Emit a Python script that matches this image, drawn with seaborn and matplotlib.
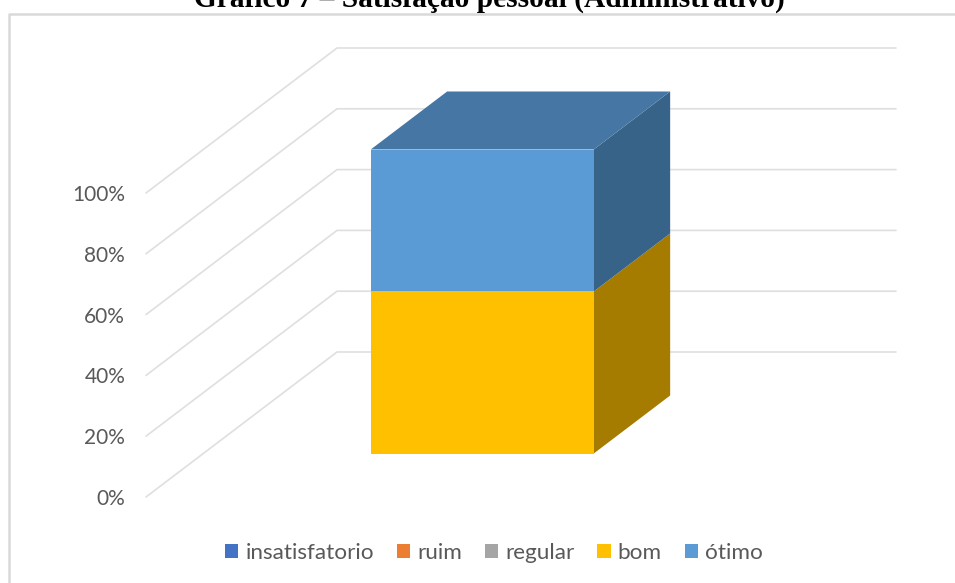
import matplotlib
matplotlib.use('Agg')
from matplotlib import pyplot
from matplotlib.lines import Line2D
from matplotlib.transforms import Affine2D
import seaborn as sns

titleText = 'Gráfico 7 – Satisfação pessoal (Administrativo)'
seriesNames = ['insatisfatorio', 'ruim', 'regular', 'bom', 'ótimo']
seriesValues = [0, 0, 0, 53.3, 46.7]
yTicks = [0, 20, 40, 60, 80, 100]
yTickLabels = ['0%', '20%', '40%', '60%', '80%', '100%']

frontColors = ['#4472C4', '#ED7D31', '#A5A5A5', '#FFC000', '#5B9BD5']
sideColors = ['#2F5597', '#A65E22', '#747474', '#A67C00', '#376389']
topColors = ['#3A62A8', '#C96A2A', '#8C8C8C', '#D9A300', '#4676A4']
gridColor = '#DFDFDF'
textColor = '#595959'

WIDTH, HEIGHT = 955, 583
# front plane of the fake 3D box, in pixels
LEFT, BOTTOM, PLANE_W, PLANE_H = 146, 497, 559, 304
# what one full unit of depth moves a point by, in data units
DEPTH_X = 191 / PLANE_W
DEPTH_Y = 145 / PLANE_H * 100
BAR_WIDTH = 0.399
BAR_CENTER = -0.001
BAR_NEAR, BAR_FAR = 0.3, 0.7


def Project(x, y, depth):
	return x + depth * DEPTH_X, y + depth * DEPTH_Y


def FillFace(ax, points, color, zorder):
	xs, ys = zip(*[Project(*p) for p in points])
	ax.fill(xs, ys, color=color, linewidth=0, clip_on=False, zorder=zorder)


sns.set_theme(style='white')
pyplot.rcParams['font.family'] = ['Lato', 'DejaVu Sans']

fig = pyplot.figure(figsize=(WIDTH / 100, HEIGHT / 100), dpi=100)
ax = fig.add_axes([LEFT / WIDTH, (HEIGHT - BOTTOM) / HEIGHT, PLANE_W / WIDTH, PLANE_H / HEIGHT])

# walls
for v in yTicks:
	xs, ys = zip(Project(-0.5, v, 0), Project(-0.5, v, 1), Project(0.5, v, 1))
	ax.plot(xs, ys, color=gridColor, linewidth=1.2, clip_on=False, zorder=1)

# stacked bars, the front faces come from seaborn
barShift = Affine2D().translate(*Project(BAR_CENTER, 0, BAR_NEAR)) + ax.transData
bottom = 0
x0, x1 = BAR_CENTER - BAR_WIDTH / 2, BAR_CENTER + BAR_WIDTH / 2
for name, value, front, side in zip(seriesNames, seriesValues, frontColors, sideColors):
	before = len(ax.patches)
	sns.barplot(x=[''], y=[value], bottom=bottom, width=BAR_WIDTH, color=front,
				saturation=1, linewidth=0, label=name, legend=False, ax=ax, zorder=4)
	for patch in ax.patches[before:]:
		patch.set_transform(barShift)
		patch.set_clip_on(False)
	if value > 0:
		FillFace(ax, [(x1, bottom, BAR_NEAR), (x1, bottom + value, BAR_NEAR),
					  (x1, bottom + value, BAR_FAR), (x1, bottom, BAR_FAR)], side, 3)
	bottom += value

topColor = [c for c, v in zip(topColors, seriesValues) if v > 0][-1]
FillFace(ax, [(x0, bottom, BAR_NEAR), (x1, bottom, BAR_NEAR),
			  (x1, bottom, BAR_FAR), (x0, bottom, BAR_FAR)], topColor, 3)

ax.set_xlim(-0.5, 0.5)
ax.set_ylim(0, 100)
ax.set_xticks([])
ax.set_xlabel('')
ax.set_ylabel('')
ax.set_yticks(yTicks)
ax.set_yticklabels(yTickLabels, fontsize=15, color=textColor)
ax.tick_params(axis='y', length=0, pad=15)
ax.patch.set_visible(False)
sns.despine(ax=ax, left=True, bottom=True)

handles, labels = ax.get_legend_handles_labels()
fig.legend(handles, labels, loc='center', bbox_to_anchor=(494 / WIDTH, (HEIGHT - 553) / HEIGHT),
		   ncol=5, frameon=False, fontsize=16.2, labelcolor=textColor,
		   handlelength=0.6, handleheight=0.6, handletextpad=0.31, columnspacing=1.01)

# chart frame runs off the right and bottom of the picture
fig.add_artist(Line2D([9 / WIDTH, 9 / WIDTH, 1], [0, (HEIGHT - 14) / HEIGHT, (HEIGHT - 14) / HEIGHT],
					  color='#D9D9D9', linewidth=1.8))

fig.text(489 / WIDTH, (HEIGHT - 7) / HEIGHT, titleText, ha='center', va='baseline',
		 family='Liberation Serif', weight='bold', fontsize=21.2, color='black')

fig.savefig('out.png', dpi=100)
